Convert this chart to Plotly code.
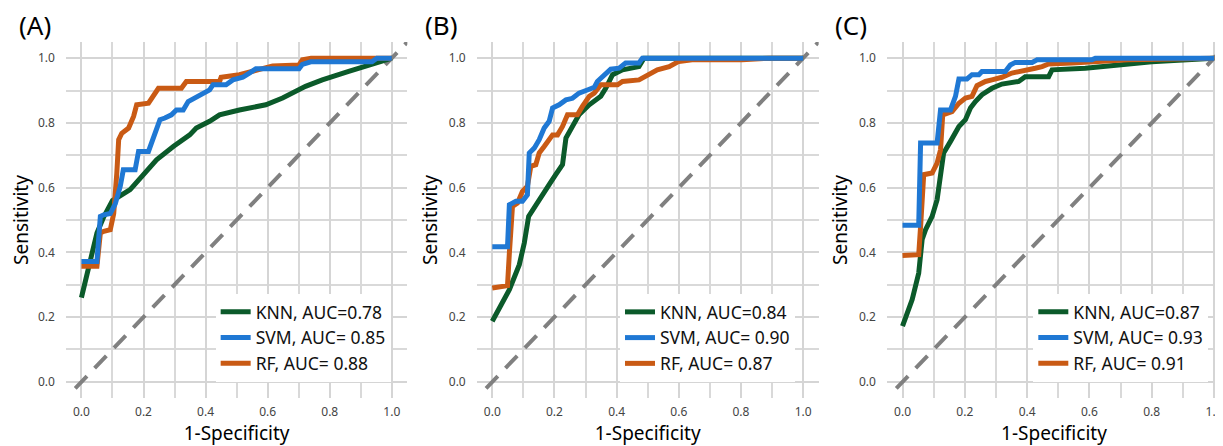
import plotly.graph_objects as go

# ---------------- data ----------------
panel_labels = ["(A)", "(B)", "(C)"]
model_names = ["KNN", "SVM", "RF"]
auc_labels_a = ["KNN, AUC=0.78", "SVM, AUC= 0.85", "RF, AUC= 0.88"]
auc_labels_b = ["KNN, AUC=0.84", "SVM, AUC= 0.90", "RF, AUC= 0.87"]
auc_labels_c = ["KNN, AUC=0.87", "SVM, AUC= 0.93", "RF, AUC= 0.91"]
tick_vals = [0.0, 0.2, 0.4, 0.6, 0.8, 1.0]
tick_text = ["0.0", "0.2", "0.4", "0.6", "0.8", "1.0"]

# Panel A
knn_a_x = [0, 0.05, 0.072, 0.10, 0.157, 0.184, 0.21, 0.242, 0.296, 0.349, 0.37, 0.413, 0.445, 0.509, 0.594, 0.648, 0.722, 0.776, 0.861, 0.947, 1.0]
knn_a_y = [0.26, 0.46, 0.51, 0.56, 0.594, 0.624, 0.655, 0.686, 0.727, 0.763, 0.784, 0.805, 0.825, 0.84, 0.856, 0.877, 0.913, 0.933, 0.959, 0.985, 1.0]
svm_a_x = [0, 0.05, 0.061, 0.072, 0.093, 0.109, 0.125, 0.135, 0.173, 0.184, 0.216, 0.232, 0.253, 0.269, 0.29, 0.306, 0.328, 0.344, 0.365, 0.381, 0.397, 0.413, 0.424, 0.466, 0.488, 0.52, 0.541, 0.562, 0.616, 0.701, 0.712, 0.739, 0.936, 0.952, 1.0]
svm_a_y = [0.372, 0.372, 0.511, 0.516, 0.52, 0.55, 0.604, 0.655, 0.655, 0.712, 0.712, 0.758, 0.81, 0.815, 0.825, 0.84, 0.84, 0.866, 0.877, 0.887, 0.894, 0.902, 0.918, 0.918, 0.933, 0.941, 0.954, 0.967, 0.967, 0.967, 0.981, 0.989, 0.989, 1.0, 1.0]
rf_a_x = [0, 0.05, 0.061, 0.072, 0.093, 0.104, 0.114, 0.12, 0.13, 0.152, 0.168, 0.178, 0.216, 0.232, 0.248, 0.322, 0.338, 0.445, 0.45, 0.509, 0.552, 0.616, 0.701, 0.712, 0.74, 1.0]
rf_a_y = [0.357, 0.357, 0.46, 0.465, 0.47, 0.52, 0.645, 0.748, 0.768, 0.784, 0.82, 0.856, 0.861, 0.882, 0.907, 0.907, 0.928, 0.928, 0.941, 0.949, 0.959, 0.976, 0.979, 0.995, 1.0, 1.0]

# Panel B
knn_b_x = [0, 0.055, 0.087, 0.103, 0.117, 0.14, 0.162, 0.183, 0.204, 0.226, 0.237, 0.258, 0.279, 0.312, 0.349, 0.365, 0.387, 0.419, 0.472, 0.488, 1.0]
knn_b_y = [0.187, 0.285, 0.362, 0.429, 0.511, 0.547, 0.583, 0.609, 0.64, 0.671, 0.753, 0.789, 0.825, 0.856, 0.882, 0.907, 0.949, 0.964, 0.974, 1.0, 1.0]
svm_b_x = [0, 0.049, 0.055, 0.076, 0.097, 0.113, 0.119, 0.135, 0.151, 0.167, 0.183, 0.194, 0.215, 0.237, 0.258, 0.279, 0.312, 0.328, 0.338, 0.365, 0.381, 0.408, 0.429, 0.472, 0.483, 1.0]
svm_b_y = [0.417, 0.417, 0.547, 0.558, 0.558, 0.578, 0.707, 0.722, 0.748, 0.784, 0.805, 0.846, 0.856, 0.871, 0.876, 0.892, 0.904, 0.91, 0.928, 0.954, 0.966, 0.969, 0.985, 0.985, 1.0, 1.0]
rf_b_x = [0, 0.049, 0.055, 0.065, 0.081, 0.097, 0.113, 0.124, 0.14, 0.151, 0.167, 0.183, 0.194, 0.21, 0.226, 0.242, 0.274, 0.29, 0.312, 0.328, 0.349, 0.403, 0.419, 0.472, 0.504, 0.531, 0.569, 0.6, 0.643, 0.804, 0.89, 1.0]
rf_b_y = [0.29, 0.297, 0.398, 0.542, 0.552, 0.588, 0.604, 0.666, 0.671, 0.707, 0.727, 0.748, 0.763, 0.763, 0.789, 0.825, 0.825, 0.851, 0.882, 0.892, 0.918, 0.918, 0.928, 0.933, 0.949, 0.964, 0.974, 0.99, 0.995, 0.995, 1.0, 1.0]

# Panel C
knn_c_x = [0, 0.031, 0.052, 0.063, 0.074, 0.095, 0.111, 0.122, 0.132, 0.154, 0.17, 0.181, 0.202, 0.218, 0.234, 0.255, 0.287, 0.319, 0.373, 0.394, 0.469, 0.48, 0.587, 0.8, 1.0]
knn_c_y = [0.172, 0.254, 0.336, 0.44, 0.47, 0.511, 0.563, 0.635, 0.707, 0.743, 0.769, 0.789, 0.81, 0.846, 0.866, 0.887, 0.907, 0.92, 0.928, 0.943, 0.943, 0.964, 0.969, 0.989, 1.0]
svm_c_x = [0, 0.052, 0.058, 0.111, 0.122, 0.154, 0.17, 0.181, 0.207, 0.223, 0.245, 0.255, 0.33, 0.346, 0.362, 0.416, 0.432, 0.608, 0.619, 1.0]
svm_c_y = [0.484, 0.484, 0.738, 0.738, 0.84, 0.84, 0.882, 0.936, 0.936, 0.949, 0.949, 0.959, 0.959, 0.979, 0.987, 0.987, 0.995, 0.995, 1.0, 1.0]
rf_c_x = [0, 0.052, 0.058, 0.068, 0.095, 0.111, 0.122, 0.129, 0.159, 0.181, 0.202, 0.223, 0.239, 0.266, 0.287, 0.319, 0.351, 0.383, 0.426, 0.448, 0.469, 0.544, 0.629, 0.725, 1.0]
rf_c_y = [0.39, 0.393, 0.48, 0.64, 0.645, 0.676, 0.717, 0.825, 0.835, 0.861, 0.877, 0.882, 0.915, 0.928, 0.933, 0.941, 0.954, 0.962, 0.969, 0.974, 0.982, 0.985, 0.99, 0.995, 1.0]

diag_x = [-0.02, 1.06]
diag_y = [-0.02, 1.06]

# ---------------- styling ----------------
colors = {"KNN": "#0b5a2a", "SVM": "#1f78d4", "RF": "#c95a14"}
FONT = "Noto Sans, Open Sans, DejaVu Sans, sans-serif"
# the page body adds an 8px margin, so the figure is 8px smaller than the window
W, H = 1215, 438
MT, MB = 34, 48
PH = H - MT - MB

panels = [
    dict(label="(A)", names=auc_labels_a,
         data={"KNN": (knn_a_x, knn_a_y), "SVM": (svm_a_x, svm_a_y), "RF": (rf_a_x, rf_a_y)},
         domain=[58.0 / W, 400.0 / W], xrange=[-0.05, 1.05], lab_x=9, leg_x=208),
    dict(label="(B)", names=auc_labels_b,
         data={"KNN": (knn_b_x, knn_b_y), "SVM": (svm_b_x, svm_b_y), "RF": (rf_b_x, rf_b_y)},
         domain=[469.5 / W, 812.0 / W], xrange=[-0.05, 1.05], lab_x=416, leg_x=613),
    dict(label="(C)", names=auc_labels_c,
         data={"KNN": (knn_c_x, knn_c_y), "SVM": (svm_c_x, svm_c_y), "RF": (rf_c_x, rf_c_y)},
         domain=[880.4 / W, 1.0], xrange=[-0.05, 1.0224], lab_x=826, leg_x=1027),
]

fig = go.Figure()
draw_order = ["KNN", "RF", "SVM"]
rank = {"KNN": 1, "SVM": 2, "RF": 3}

for i, p in enumerate(panels):
    sfx = "" if i == 0 else str(i + 1)
    xa, ya = "x" + sfx, "y" + sfx
    leg = "legend" + sfx
    fig.add_trace(go.Scatter(x=diag_x, y=diag_y, mode="lines", xaxis=xa, yaxis=ya,
                             line=dict(color="#808080", width=4, dash="17px,11px"),
                             showlegend=False, hoverinfo="skip"))
    for m in draw_order:
        xs, ys = p["data"][m]
        fig.add_trace(go.Scatter(x=xs, y=ys, mode="lines", xaxis=xa, yaxis=ya,
                                 name=p["names"][model_names.index(m)],
                                 line=dict(color=colors[m], width=5),
                                 legend=leg, legendrank=rank[m]))
    axis_common = dict(
        tickvals=tick_vals, ticktext=tick_text,
        showgrid=True, gridcolor="#d5d5d5", gridwidth=2,
        minor=dict(dtick=0.1, tick0=0, showgrid=True, gridcolor="#d9d9d9", gridwidth=1.6),
        zeroline=False, showline=False, ticks="",
        tickfont=dict(family=FONT, size=12, color="#444444"),
        title_font=dict(family=FONT, size=19, color="#000000"),
    )
    fig.layout["xaxis" + sfx] = dict(axis_common, domain=p["domain"], range=p["xrange"],
                                     anchor=ya, ticklabelstandoff=5, ticklabeloverflow="allow",
                                     title=dict(text="1-Specificity", standoff=4))
    fig.layout["yaxis" + sfx] = dict(axis_common, domain=[0, 1], range=[-0.05, 1.05],
                                     anchor=xa, ticklabelstandoff=10,
                                     title=dict(text="Sensitivity", standoff=6))
    fig.layout[leg] = dict(x=p["leg_x"] / W, xanchor="left", y=0.045, yanchor="bottom",
                           bgcolor="#ffffff", borderwidth=0,
                           font=dict(family=FONT, size=17.5, color="#111111"),
                           itemwidth=30, tracegroupgap=0)
    fig.add_annotation(text=p["label"], xref="paper", yref="paper",
                       x=p["lab_x"] / W, y=1.0 + (MT - 17.5) / PH,
                       xanchor="left", yanchor="middle", showarrow=False,
                       font=dict(family=FONT, size=26, color="#000000"))

fig.update_layout(width=W, height=H, margin=dict(l=0, r=0, t=MT, b=MB),
                  paper_bgcolor="#ffffff", plot_bgcolor="#ffffff",
                  font=dict(family=FONT))

fig.write_html("out.html")
